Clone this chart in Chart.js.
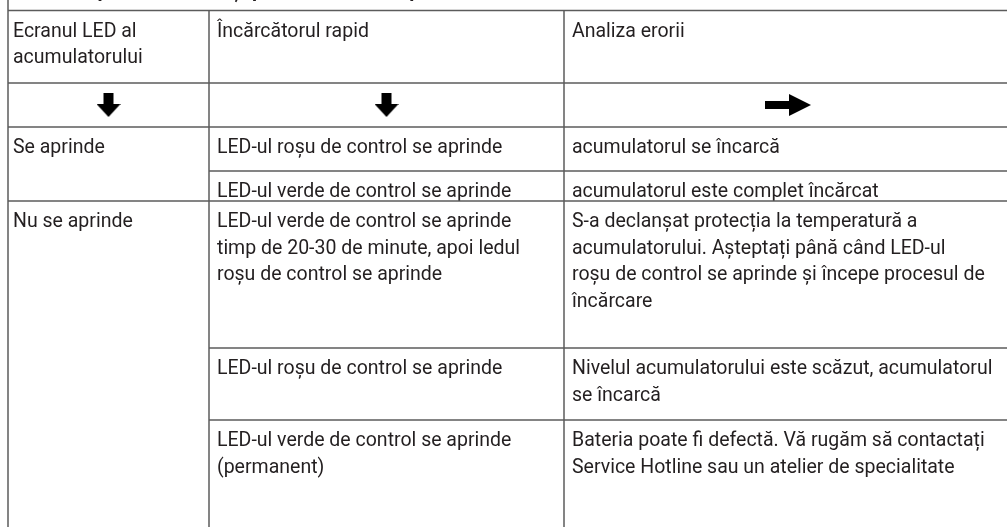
<!DOCTYPE html>
<html lang="ro">
<head>
<meta charset="utf-8">
<title>Analiza erorii</title>
<script src="https://cdn.jsdelivr.net/npm/chart.js@4.4.1/dist/chart.umd.min.js"></script>
<style>
  html, body { margin: 0; padding: 0; background: #fff; }
  #wrap { width: 1007px; height: 527px; }
</style>
</head>
<body>
<div id="wrap"><canvas id="tabel"></canvas></div>
<script>
// Date tabel
const titlu = 'Semnale pe acumulator și pe încărcătorul rapid';
const capete = ['Ecranul LED al\nacumulatorului', 'Încărcătorul rapid', 'Analiza erorii'];
const sageti = ['jos', 'jos', 'dreapta'];
const stareEcran = ['Se aprinde', 'Nu se aprinde'];
const randuriPeStare = [2, 3];
const stareIncarcator = [
  'LED-ul roșu de control se aprinde',
  'LED-ul verde de control se aprinde',
  'LED-ul verde de control se aprinde\ntimp de 20-30 de minute, apoi ledul\nroșu de control se aprinde',
  'LED-ul roșu de control se aprinde',
  'LED-ul verde de control se aprinde\n(permanent)'
];
const analiza = [
  'acumulatorul se încarcă',
  'acumulatorul este complet încărcat',
  'S-a declanșat protecția la temperatură a\nacumulatorului. Așteptați până când LED-ul\nroșu de control se aprinde și începe procesul de\nîncărcare',
  'Nivelul acumulatorului este scăzut, acumulatorul\nse încarcă',
  'Bateria poate fi defectă. Vă rugăm să contactați\nService Hotline sau un atelier de specialitate'
];

// Aranjare (unitati de scala)
const coloane = [8, 209, 564, 1012];
const linieSus = 10.5;
const randuri = [83, 127, 171, 201, 348, 420, 540]; // marginile de jos ale randurilor
const culoareLinie = '#5b5b5b';
const culoareText = '#231f20';
const fontText = '19.5px Roboto';
const pasLinie = 26.5;

function sageata(dir) {
  const c = document.createElement('canvas');
  const g = c.getContext('2d');
  g.fillStyle = '#1e1e1e';
  if (dir === 'jos') {
    c.width = 24; c.height = 24;
    g.fillRect(7, 0, 10, 12);
    g.beginPath(); g.moveTo(0, 11); g.lineTo(24, 11); g.lineTo(12, 24); g.closePath(); g.fill();
  } else {
    c.width = 46; c.height = 22;
    g.fillRect(0, 7, 25, 8);
    g.beginPath(); g.moveTo(24, 0); g.lineTo(46, 11); g.lineTo(24, 22); g.closePath(); g.fill();
  }
  return c;
}

const puncteSageti = sageti.map((d, i) => ({
  x: (coloane[i] + coloane[i + 1]) / 2,
  y: (randuri[0] + randuri[1]) / 2
}));

const pluginTabel = {
  id: 'tabel',
  beforeDatasetsDraw(chart) {
    const { ctx, scales: { x, y } } = chart;
    const px = v => x.getPixelForValue(v);
    const py = v => y.getPixelForValue(v);
    ctx.save();

    // titlu (taiat sus, se vad doar codițele)
    ctx.fillStyle = culoareText;
    ctx.font = 'bold 20px Roboto';
    ctx.textBaseline = 'alphabetic';
    ctx.fillText(titlu, px(14), py(-3));

    const scrie = (txt, col, sus) => {
      ctx.font = fontText;
      ctx.textBaseline = 'alphabetic';
      ctx.fillStyle = culoareText;
      txt.split('\n').forEach((l, k) => {
        ctx.fillText(l, px(coloane[col] + (col === 0 ? 5 : 8)), py(sus + 26 + k * pasLinie));
      });
    };

    // linii
    ctx.strokeStyle = culoareLinie;
    ctx.lineWidth = 1.5;
    const oriz = (x0, yv) => { ctx.beginPath(); ctx.moveTo(px(x0), py(yv)); ctx.lineTo(px(coloane[3]), py(yv)); ctx.stroke(); };
    const vert = (xv, y0, y1) => { ctx.beginPath(); ctx.moveTo(px(xv), py(y0)); ctx.lineTo(px(xv), py(y1)); ctx.stroke(); };

    oriz(coloane[0], linieSus);
    vert(coloane[0], 0, randuri[randuri.length - 1]);
    vert(coloane[1], linieSus, randuri[randuri.length - 1]);
    vert(coloane[2], linieSus, randuri[randuri.length - 1]);
    oriz(coloane[0], randuri[0]);
    oriz(coloane[0], randuri[1]);

    // capete de tabel
    capete.forEach((c, i) => scrie(c, i, linieSus));

    // randuri
    let r = 0;
    let susGrup = randuri[1];
    stareEcran.forEach((s, gi) => {
      scrie(s, 0, susGrup);
      for (let k = 0; k < randuriPeStare[gi]; k++) {
        const sus = k === 0 ? susGrup : randuri[1 + r];
        scrie(stareIncarcator[r], 1, sus);
        scrie(analiza[r], 2, sus);
        const jos = randuri[2 + r];
        const ultim = k === randuriPeStare[gi] - 1;
        if (jos < 527) oriz(ultim ? coloane[0] : coloane[1], jos);
        r++;
      }
      susGrup = randuri[1 + r];
    });
    ctx.restore();
  }
};

new Chart(document.getElementById('tabel'), {
  type: 'scatter',
  data: {
    datasets: [{
      data: puncteSageti,
      pointStyle: sageti.map(sageata),
      pointRadius: 12,
      pointHoverRadius: 12
    }]
  },
  options: {
    responsive: true,
    maintainAspectRatio: false,
    animation: false,
    events: [],
    layout: { padding: 0, autoPadding: false },
    scales: {
      x: { type: 'linear', min: 0, max: 1007, display: false },
      y: { type: 'linear', min: 0, max: 527, reverse: true, display: false }
    },
    plugins: { legend: { display: false }, tooltip: { enabled: false } }
  },
  plugins: [pluginTabel]
});
</script>
</body>
</html>
